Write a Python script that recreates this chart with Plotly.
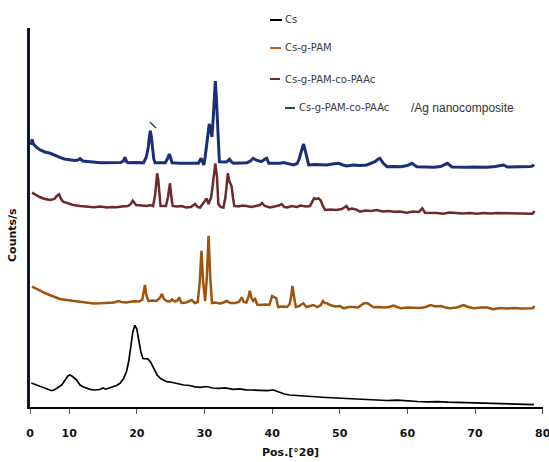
import plotly.graph_objects as go

# ---------------- data (counts in arbitrary stacked units) ----------------
cs_x = [4.4, 5.0, 5.6, 6.2, 6.8, 7.4, 7.9, 8.4, 8.9, 9.4,
        9.8, 10.1, 10.5, 11.1, 11.6, 12.1, 12.6, 13.1, 13.8, 14.5,
        15.0, 15.4, 16.0, 16.5, 17.0, 17.5, 18.0, 18.5, 18.8, 19.1,
        19.4, 19.7, 20.0, 20.3, 20.6, 20.9, 21.3, 21.6, 22.0, 22.5,
        23.0, 23.5, 24.4, 25.3, 26.2, 26.9, 27.8, 28.6, 29.4, 30.3,
        31.2, 32.1, 33.0, 34.3, 35.2, 36.1, 37.0, 38.1, 39.2, 40.2,
        41.0, 41.8, 42.6, 43.5, 45.0, 46.5, 48.0, 49.5, 51.0, 52.5,
        54.0, 55.5, 57.0, 58.5, 60.0, 61.5, 63.0, 64.5, 66.0, 67.5,
        69.0, 70.5, 72.0, 73.5, 75.0, 76.5, 77.7, 78.7]
cs_y = [24, 22.5, 20.5, 19.7, 17.5, 16.3, 17.5, 19.5, 22, 27,
        31, 32, 30.5, 27, 22, 20, 18.5, 17.7, 17, 17.5,
        19, 17.8, 19.2, 20, 21.5, 23.7, 28, 36, 46, 60,
        75, 81.7, 78, 66, 55, 48.5, 48.7, 48.2, 45.3, 39,
        32, 28.5, 25.3, 24.5, 23, 22, 21.5, 20.2, 19.7, 20.5,
        19, 18.6, 19.2, 17.7, 18.2, 17.1, 17, 16.8, 16.3, 17,
        15, 13, 12, 11.5, 10.8, 10.2, 9.5, 9, 8.5, 8,
        7.8, 7.2, 6.5, 6.8, 6, 5.5, 5.2, 5.4, 4.8, 4.5,
        4.2, 4.4, 3.5, 3.2, 3.0, 3.3, 2.8, 2.4]

pam_x = [4.5, 5.1, 5.7, 6.4, 7.2, 7.9, 8.6, 9.6, 10.6, 11.6,
         12.6, 13.6, 14.6, 15.6, 16.6, 17.3, 17.7, 18.5, 19.5, 20.3,
         20.8, 21.0, 21.2, 21.4, 21.7, 22.3, 22.9, 23.4, 23.7, 24.0,
         24.4, 24.9, 25.2, 25.6, 26.0, 26.25, 26.6, 27.3, 28.1, 28.6,
         29.0, 29.3, 29.55, 29.8, 30.1, 30.35, 30.6, 30.85, 31.1, 31.6,
         32.3, 32.8, 33.3, 33.8, 34.5, 35.1, 35.5, 35.8, 36.2, 36.5,
         36.7, 36.9, 37.2, 37.5, 37.8, 38.3, 39.0, 39.6, 40.0, 40.3,
         40.6, 40.9, 41.5, 42.2, 42.6, 42.85, 43.0, 43.2, 43.5, 44.0,
         44.6, 45.1, 45.6, 46.1, 46.7, 47.2, 47.5, 47.8, 48.1, 48.6,
         49.3, 50.0, 50.6, 51.3, 52.0, 52.7, 53.3, 53.6, 54.1, 54.6,
         55.0, 55.8, 56.6, 57.3, 57.95, 58.5, 59.0, 60.0, 61.0, 61.9,
         62.7, 63.4, 64.2, 64.9, 65.6, 66.3, 67.3, 68.3, 69.0, 69.8,
         70.8, 71.8, 72.7, 73.7, 74.7, 75.7, 76.7, 77.7, 78.5, 78.8]
pam_y = [120.3, 118, 116.3, 114, 112, 110.5, 108, 107, 106, 105,
         104.7, 103.5, 103.7, 104, 104.5, 106, 105, 104.5, 105.7, 105.5,
         107, 115, 122, 112, 106, 106.5, 106, 109, 113, 108,
         106, 105.5, 107.5, 105.5, 106.5, 109.7, 104, 104.5, 107, 104,
         105, 125, 156.3, 125, 106, 130, 171.3, 130, 104, 104.5,
         103.5, 104.5, 106, 104, 104, 105, 109.7, 105, 104.5, 110,
         116.3, 110, 106, 108, 102.5, 102, 102.5, 102, 111, 110,
         108.7, 100, 100.5, 100, 103, 112, 121, 112, 100, 101,
         103.7, 100, 101, 102, 100, 102, 106, 104, 103.7, 102,
         100.5, 101, 98.7, 100, 100, 99.5, 102.5, 103.7, 103.7, 101,
         99.7, 100, 99.5, 100, 101.5, 100, 98.7, 99.5, 99, 99,
         100, 102, 100.5, 101, 99.5, 98.7, 99.5, 102, 100, 98.7,
         99.5, 99.5, 97.7, 99, 98.5, 99, 98.5, 98.7, 98.7, 101]

paac_x = [4.5, 5.1, 5.7, 6.4, 7.2, 7.8, 8.15, 8.5, 8.8, 9.1,
          9.8, 10.6, 11.6, 12.6, 13.6, 14.6, 15.6, 16.4, 17.0, 17.8,
          18.7, 19.1, 19.4, 19.9, 20.6, 21.5, 22.0, 22.4, 22.7, 22.85,
          23.0, 23.15, 23.3, 23.5, 24.0, 24.3, 24.6, 24.9, 25.1, 25.3,
          25.9, 26.6, 27.3, 28.0, 28.6, 29.0, 29.35, 29.8, 30.05, 30.3,
          30.6, 31.0, 31.3, 31.6, 31.85, 32.05, 32.4, 32.8, 33.1, 33.3,
          33.45, 33.65, 33.85, 34.0, 34.2, 34.4, 35.0, 35.6, 36.2, 36.9,
          37.6, 38.2, 38.5, 38.9, 39.7, 40.5, 41.0, 41.4, 41.8, 42.2,
          42.9, 43.65, 44.2, 44.6, 45.1, 45.6, 45.9, 46.2, 46.5, 46.85,
          47.2, 47.5, 47.85, 48.6, 49.5, 50.3, 51.0, 51.3, 51.8, 52.4,
          53.0, 53.8, 54.6, 55.5, 56.3, 57.2, 58.0, 58.9, 59.9, 60.8,
          61.7, 62.2, 62.6, 63.5, 64.4, 65.3, 66.2, 67.2, 68.2, 69.2,
          70.3, 71.3, 72.3, 73.3, 74.4, 75.7, 76.7, 77.7, 78.5, 78.8]
paac_y = [214.3, 212, 209.7, 208, 207, 208, 211, 212.7, 208, 205.3,
          203.5, 202, 201, 200.5, 199.7, 200.5, 199.5, 200, 199.7, 200.5,
          201, 203, 206.3, 202, 201.5, 201, 202, 201, 212, 228,
          233.7, 228, 212, 201, 201, 201, 210, 223.7, 210, 201,
          200.5, 201, 199.5, 200, 203, 200, 199.5, 203, 206, 208.7,
          203, 210, 230, 243.7, 230, 203, 200, 199.5, 210, 228,
          233.7, 226, 223.7, 221, 210, 201, 200.5, 201.5, 201, 200,
          201, 202, 204, 201, 199.5, 200.5, 201.5, 203, 200, 199.5,
          201, 200, 201.5, 201, 200.5, 201, 205, 208.7, 208, 208.7,
          206.5, 201, 197, 197.5, 197, 198, 201, 197.5, 198.5, 197.5,
          195.3, 196.5, 196, 197, 195.5, 196, 195.3, 195.5, 194.3, 195.5,
          195, 198.7, 194.3, 194.5, 194, 193.3, 194.5, 194, 193.5, 194,
          193.3, 194, 193.5, 194, 193.8, 194, 193.5, 193.5, 193.3, 196]

ag_x = [4.4, 4.5, 4.7, 5.1, 5.7, 6.4, 7.2, 7.9, 8.6, 9.3,
        10.1, 10.8, 11.3, 11.6, 12.0, 12.6, 13.5, 14.55, 15.6, 16.8,
        17.6, 18.0, 18.25, 18.5, 18.7, 19.5, 20.3, 21.0, 21.4, 21.7,
        21.85, 22.0, 22.15, 22.3, 22.5, 22.7, 23.4, 24.2, 24.5, 24.8,
        25.0, 25.2, 26.3, 27.4, 28.3, 29.1, 29.5, 29.9, 30.1, 30.3,
        30.5, 30.7, 30.9, 31.1, 31.3, 31.45, 31.6, 31.75, 31.95, 32.1,
        32.2, 32.8, 33.3, 33.7, 34.0, 34.3, 35.3, 36.3, 36.8, 37.2,
        37.6, 38.0, 38.4, 38.9, 39.2, 39.5, 40.3, 41.2, 41.7, 42.4,
        43.15, 43.7, 44.0, 44.3, 44.65, 45.0, 45.2, 45.4, 46.3, 47.2,
        48.1, 48.9, 49.8, 50.5, 51.0, 52.0, 53.0, 54.0, 54.6, 55.2,
        55.7, 55.95, 56.4, 57.0, 58.0, 59.0, 60.0, 60.65, 61.4, 62.6,
        63.9, 64.9, 65.9, 66.6, 67.7, 68.8, 69.8, 70.8, 71.8, 73.0,
        74.2, 74.8, 75.6, 76.6, 77.6, 78.2, 78.5, 78.7]
ag_y = [262, 267.7, 263, 260, 257, 255, 253.7, 251.5, 249.7, 248,
        247, 246.5, 247, 248.3, 246, 245.3, 245, 244.3, 244.5, 244.3,
        244.5, 246, 249.7, 245, 244.3, 244.5, 244, 244.3, 250, 260.3,
        270, 276.3, 270, 258, 248, 244.3, 244.5, 244.3, 248, 253,
        249, 244.3, 243.8, 243.7, 244, 243.7, 248.7, 242, 250, 260,
        275, 283, 278, 270, 290, 315, 326, 310, 274, 255,
        245.3, 245, 245.3, 247.7, 245, 243.7, 244, 244.3, 246, 248.7,
        247, 246.5, 245.3, 247.7, 248.7, 243.7, 243.5, 243.7, 244.5, 243.5,
        242, 243.5, 248, 255.3, 263, 253.7, 246, 242, 242.5, 242,
        242, 243, 243.7, 242, 241, 242, 241.5, 242, 243.5, 245.3,
        248, 248.7, 244, 240.3, 240.5, 240.3, 241.5, 243.7, 240.3, 240,
        239.7, 240.5, 243.7, 240, 239.7, 239.7, 240, 239.8, 239.7, 240.5,
        242, 240, 240, 240, 240, 240.5, 241, 242.5]

series_names = ["Cs", "Cs-g-PAM", "Cs-g-PAM-co-PAAc", "Cs-g-PAM-co-PAAc"]
series_colors = ["#000000", "#a0520f", "#6e2a2a", "#1b2f78"]
legend_colors = ["#000000", "#c0621a", "#6e2a2a", "#1d5050"]
tick_vals = [4.2, 10, 20, 30, 40, 50, 60, 70, 80]
tick_text = ["0", "10", "20", "30", "40", "50", "60", "70", "80"]

# ---------------- figure ----------------
W, H = 549, 462
ML, MR, MT, MB = 30, 6, 28, 55
PW, PH = W - ML - MR, H - MT - MB


def px(xp):
    return (xp - ML) / PW


def py(yp):
    return (H - MB - yp) / PH


fig = go.Figure()
xs = [cs_x, pam_x, paac_x, ag_x]
ys = [cs_y, pam_y, paac_y, ag_y]
widths = [1.7, 2.5, 2.5, 3.0]
for i in range(4):
    fig.add_trace(go.Scatter(x=xs[i], y=ys[i], mode="lines", name=series_names[i],
                             line=dict(color=series_colors[i], width=widths[i]),
                             showlegend=False, hoverinfo="skip"))

# legend drawn as lines + text (as in the reference)
leg_rows = [(270, 282, 20), (270, 281, 48), (270, 280, 79), (285, 295, 108)]
text_x = [283, 283, 283, 297]
for i, (x0, x1, yy) in enumerate(leg_rows):
    fig.add_shape(type="line", xref="paper", yref="paper",
                  x0=px(x0), x1=px(x1), y0=py(yy), y1=py(yy),
                  line=dict(color=legend_colors[i], width=2))
    fig.add_annotation(xref="paper", yref="paper", x=px(text_x[i]), y=py(yy),
                       xanchor="left", yanchor="middle", showarrow=False,
                       text=series_names[i],
                       font=dict(family="DejaVu Sans", size=10, color="#3a3a3a"))
fig.add_annotation(xref="paper", yref="paper", x=px(409), y=py(108),
                   xanchor="left", yanchor="middle", showarrow=False,
                   text="/Ag nanocomposite",
                   font=dict(family="Liberation Sans", size=12, color="#333333"))
# small stray legend mark above the 22° peak
fig.add_shape(type="line", xref="paper", yref="paper",
              x0=px(150), y0=py(122), x1=px(156), y1=py(128),
              line=dict(color="#1d5050", width=1.5))

# axis titles as annotations at their reference positions
fig.add_annotation(xref="paper", yref="paper", x=px(290), y=py(452),
                   xanchor="center", yanchor="middle", showarrow=False,
                   text="Pos.[°2θ]",
                   font=dict(family="DejaVu Sans", size=11, color="#111111", weight="bold"))
fig.add_annotation(xref="paper", yref="paper", x=px(12), y=py(235),
                   xanchor="center", yanchor="middle", showarrow=False, textangle=-90,
                   text="Counts/s",
                   font=dict(family="DejaVu Sans", size=11, color="#111111", weight="bold"))

fig.update_layout(
    width=W, height=H,
    margin=dict(l=ML, r=MR, t=MT, b=MB, autoexpand=False),
    paper_bgcolor="white", plot_bgcolor="white",
    showlegend=False,
    xaxis=dict(range=[4.2, 80.05], tickvals=tick_vals, ticktext=tick_text,
               showgrid=False, zeroline=False, showline=True, automargin=False,
               linecolor="#000000", linewidth=2,
               ticks="outside", ticklen=5, tickwidth=1, tickcolor="#555555",
               ticklabelstandoff=10, ticklabeloverflow="allow",
               tickfont=dict(family="DejaVu Sans", size=11, color="#111111", weight="bold")),
    yaxis=dict(range=[0, PH], showgrid=False, zeroline=False, showline=True, automargin=False,
               linecolor="#0d1830", linewidth=2.5, showticklabels=False, ticks=""),
)

fig.write_html("out.html", config={"displayModeBar": False},
               post_script="document.body.style.margin='0';document.body.style.overflow='hidden';")
